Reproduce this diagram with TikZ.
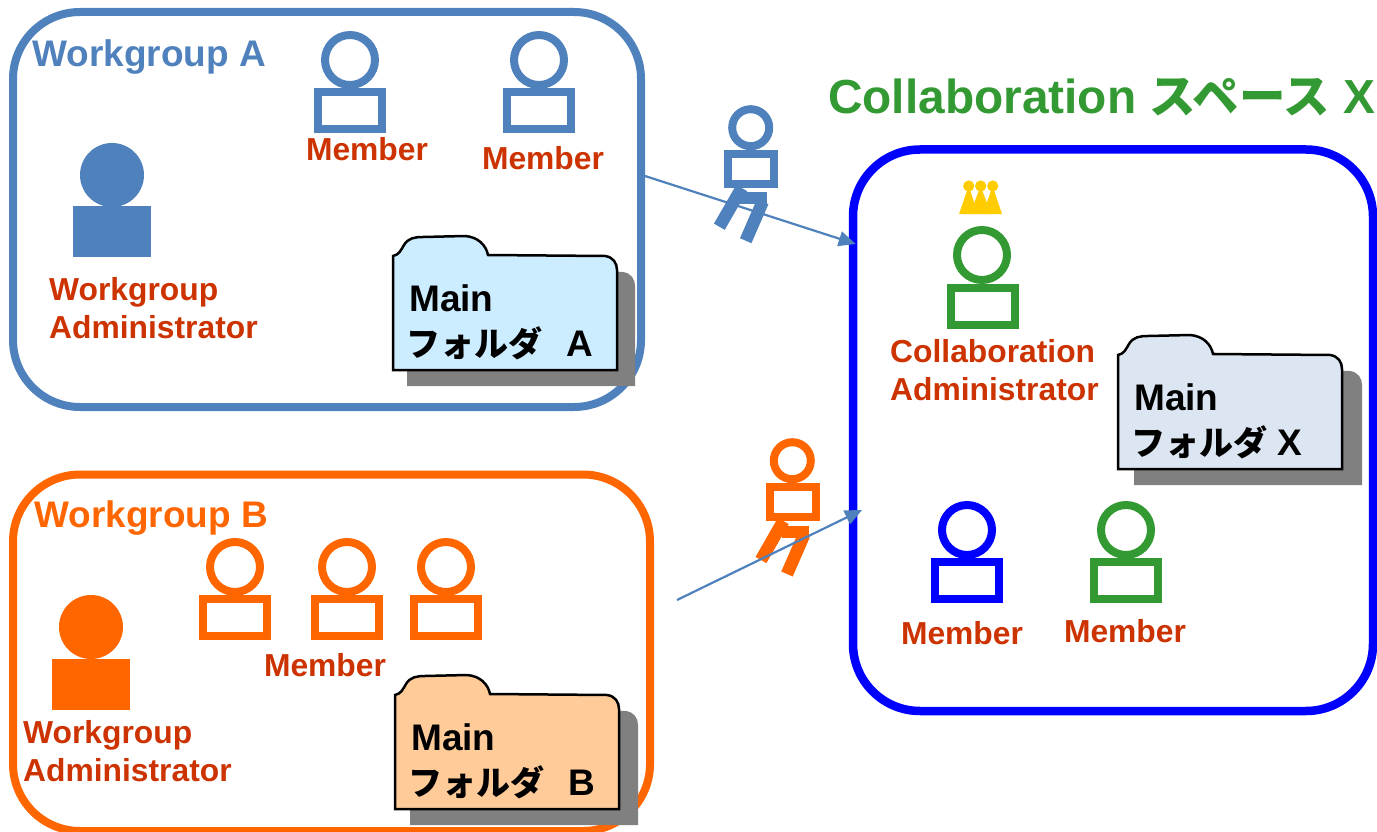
\documentclass[tikz,border=0pt]{standalone}
\usepackage{fontspec}
\setmainfont{Liberation Sans}
\newfontfamily\cjk{Noto Sans CJK JP}
\usetikzlibrary{arrows.meta}
\definecolor{wgblue}{HTML}{4F81BD}
\definecolor{wgorange}{HTML}{FF6600}
\definecolor{colgreen}{HTML}{339933}
\definecolor{lblred}{HTML}{CC3300}
\definecolor{crowngold}{HTML}{FFCC00}
\definecolor{folderskyA}{HTML}{CCECFF}
\definecolor{folderpeachB}{HTML}{FFCC99}
\definecolor{foldergreyX}{HTML}{DCE6F2}
\newcommand{\folderoutline}{(0,134) -- (0,20) .. controls (6,19) and (8,14) .. (11,9) .. controls (15,2) and (22,1) .. (30,1) -- (72,0) .. controls (85,1) and (93,9) .. (95,19) -- (212,20) .. controls (220,21) and (224,27) .. (224,34) -- (224,134) -- cycle}
\tikzset{
	groupframe/.style={draw, rectangle, rounded corners=67pt, line width=8pt, inner sep=0pt},
	personhead/.style={draw, circle, line width=8pt, minimum size=50pt, inner sep=0pt},
	personbody/.style={draw, rectangle, line width=8pt, minimum width=64pt, minimum height=37pt, inner sep=0pt},
	adminhead/.style={circle, minimum size=64pt, inner sep=0pt},
	adminbody/.style={rectangle, minimum width=78pt, minimum height=51pt, inner sep=0pt},
	walkhead/.style={draw, circle, line width=8pt, minimum size=37pt, inner sep=0pt},
	walkbody/.style={draw, rectangle, line width=8pt, minimum width=46pt, minimum height=30pt, inner sep=0pt},
	walkleg/.style={line width=12.5pt},
	grouptitle/.style={anchor=west, inner sep=0pt, font=\fontsize{37}{44}\selectfont\bfseries},
	rolelabel/.style={inner sep=0pt, text=lblred, font=\fontsize{31.8}{38}\selectfont\bfseries},
	foldertext/.style={anchor=north west, align=left, inner sep=0pt, font=\fontsize{37}{45.5}\selectfont\bfseries},
	folderback/.style={fill=black!50},
	folderfront/.style={draw=black, line width=2.5pt},
	movearrow/.style={draw=wgblue, line width=2.2pt, -{Triangle[length=17pt,width=15pt]}}
}
\begin{document}
\begin{tikzpicture}[x=1pt,y=-1pt]
	\useasboundingbox (0,0) rectangle (1377,832);

	\node[groupframe, draw=wgblue, minimum width=628pt, minimum height=395pt] (groupA) at (327,209.5) {};
	\node[grouptitle, text=wgblue] (titleA) at (32,57) {Workgroup A};
	\node[personhead, draw=wgblue] (headA1) at (350,60) {};
	\node[personbody, draw=wgblue] (bodyA1) at (350,110.5) {};
	\node[rolelabel] (labelA1) at (367,149) {Member};
	\node[personhead, draw=wgblue] (headA2) at (539,60) {};
	\node[personbody, draw=wgblue] (bodyA2) at (539,110.5) {};
	\node[rolelabel] (labelA2) at (543,158) {Member};
	\node[adminhead, fill=wgblue] (adminheadA) at (112,175) {};
	\node[adminbody, fill=wgblue] (adminbodyA) at (112,231.5) {};
	\node[rolelabel, align=left, anchor=north west] (adminlabelA) at (49,277) {Workgroup\\Administrator};
	\fill[folderback, shift={(407,252)}, xscale=1.018] \folderoutline;
	\filldraw[folderfront, fill=folderskyA, shift={(393,236)}] \folderoutline;
	\node[foldertext] (folderA) at (409,284) {Main\\\hspace{-3pt}{\cjk\fontsize{34}{45.5}\selectfont フォルダ}\hspace{24pt}A};

	\node[groupframe, draw=wgorange, minimum width=637pt, minimum height=356.5pt] (groupB) at (331.5,652.75) {};
	\node[grouptitle, text=wgorange] (titleB) at (34,518) {Workgroup B};
	\node[personhead, draw=wgorange] (headB1) at (235,567) {};
	\node[personbody, draw=wgorange] (bodyB1) at (235,617.5) {};
	\node[personhead, draw=wgorange] (headB2) at (347,567) {};
	\node[personbody, draw=wgorange] (bodyB2) at (347,617.5) {};
	\node[personhead, draw=wgorange] (headB3) at (446,567) {};
	\node[personbody, draw=wgorange] (bodyB3) at (446,617.5) {};
	\node[rolelabel] (labelB) at (325,665) {Member};
	\node[adminhead, fill=wgorange] (adminheadB) at (91,627) {};
	\node[adminbody, fill=wgorange] (adminbodyB) at (90.5,684) {};
	\node[rolelabel, align=left, anchor=north west] (adminlabelB) at (23,720) {Workgroup\\Administrator};
	\fill[folderback, shift={(410,691)}, xscale=1.018] \folderoutline;
	\filldraw[folderfront, fill=folderpeachB, shift={(395,675)}] \folderoutline;
	\node[foldertext] (folderB) at (411,723) {Main\\\hspace{-3pt}{\cjk\fontsize{34}{45.5}\selectfont フォルダ}\hspace{24pt}B};

	\node[anchor=west, inner sep=0pt, text=colgreen, font=\fontsize{47.8}{55}\selectfont\bfseries] (titleX) at (828,97) {Collaboration {\cjk\fontsize{46.5}{55}\selectfont スペース} X};
	\node[groupframe, draw=blue, line width=8.5pt, minimum width=520pt, minimum height=561.5pt] (groupX) at (1113,430.25) {};
	\fill[crowngold] (959,214) -- (968.7,186) -- (978,214) -- cycle;
	\fill[crowngold] (970,214) -- (980.6,186) -- (991,214) -- cycle;
	\fill[crowngold] (983,214) -- (992.6,186) -- (1002,214) -- cycle;
	\fill[crowngold] (968.7,186) circle (5.6pt);
	\fill[crowngold] (980.7,186) circle (5.6pt);
	\fill[crowngold] (992.7,186) circle (5.6pt);
	\node[personhead, draw=colgreen] (headXadmin) at (982,255) {};
	\node[personbody, draw=colgreen] (bodyXadmin) at (982.5,306) {};
	\node[rolelabel, align=left, anchor=north west] (adminlabelX) at (890,339) {Collaboration\\Administrator};
	\fill[folderback, shift={(1134,351)}, xscale=1.018] \folderoutline;
	\filldraw[folderfront, fill=foldergreyX, shift={(1118,335)}] \folderoutline;
	\node[foldertext] (folderX) at (1134,383) {Main\\\hspace{-3pt}{\cjk\fontsize{34}{45.5}\selectfont フォルダ}\hspace{10pt}X};
	\node[personhead, draw=blue] (headX1) at (967,530) {};
	\node[personbody, draw=blue] (bodyX1) at (966.5,580.5) {};
	\node[rolelabel] (labelX1) at (962,633) {Member};
	\node[personhead, draw=colgreen] (headX2) at (1126,530) {};
	\node[personbody, draw=colgreen] (bodyX2) at (1126,580.5) {};
	\node[rolelabel] (labelX2) at (1125,631) {Member};

	\node[walkhead, draw=wgblue] (walkheadA) at (750.7,127.7) {};
	\node[walkbody, draw=wgblue] (walkbodyA) at (751,169) {};
	\fill[wgblue] (738,192) -- (767,192) -- (767,204) -- (738,204) -- cycle;
	\draw[walkleg, wgblue] (741.7,188) -- (719.3,226.7);
	\draw[walkleg, wgblue] (762.7,201.7) -- (745.7,240.7);

	\node[walkhead, draw=wgorange] (walkheadB) at (792.3,460.7) {};
	\node[walkbody, draw=wgorange] (walkbodyB) at (792.7,502.3) {};
	\fill[wgorange] (782,525.5) -- (809,525.5) -- (809,537.5) -- (782,537.5) -- cycle;
	\draw[walkleg, wgorange] (783.3,521) -- (761,560);
	\draw[walkleg, wgorange] (804,535) -- (787,574);

	\coordinate (exitA) at (645,176);
	\coordinate (enterXa) at (855.7,244);
	\coordinate (exitB) at (677,600);
	\coordinate (enterXb) at (862,510);
	\draw[movearrow] (exitA) -- (enterXa);
	\draw[movearrow] (exitB) -- (enterXb);
\end{tikzpicture}
\end{document}
